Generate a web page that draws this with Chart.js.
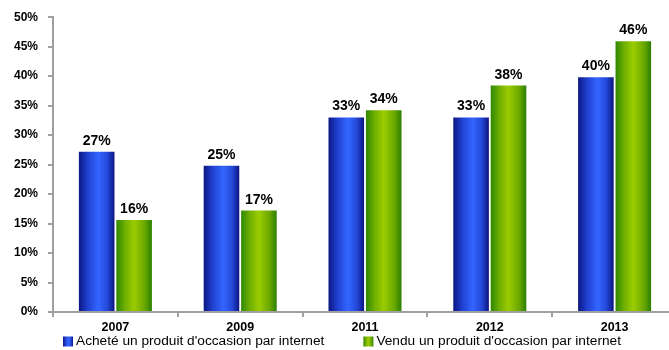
<!DOCTYPE html>
<html>
<head>
<meta charset="utf-8">
<script src="https://cdn.jsdelivr.net/npm/chart.js@4.4.0/dist/chart.umd.min.js"></script>
<style>
  body { margin: 0; background: #fff; overflow: hidden; }
  #wrap { width: 669px; height: 350px; overflow: hidden; }
</style>
</head>
<body>
<div id="wrap"><canvas id="chart" width="690" height="350"></canvas></div>
<script>
var years = ['2007', '2009', '2011', '2012', '2013'];
var achete = [27.2, 24.8, 33.0, 33.0, 39.8];
var vendu = [15.6, 17.2, 34.2, 38.4, 45.9];
var seriesNames = ["Acheté un produit d'occasion par internet", "Vendu un produit d'occasion par internet"];

var FONT = 'Liberation Sans, Arial, sans-serif';

// cylinder-like shading, left to right across a bar
var shades = [
  [[0, '#0c1682'], [0.25, '#2040d0'], [0.55, '#3366ff'], [0.8, '#2448d8'], [1, '#0b1480']],
  [[0, '#2e8800'], [0.25, '#70b000'], [0.5, '#9ccc00'], [0.8, '#6aa800'], [1, '#2a8000']]
];

function shade(ctx, i, x0, x1) {
  var g = ctx.createLinearGradient(x0, 0, x1, 0);
  shades[i].forEach(function(s) { g.addColorStop(s[0], s[1]); });
  return g;
}

var gradientBars = {
  id: 'gradientBars',
  beforeDatasetsDraw: function(chart) {
    chart.data.datasets.forEach(function(ds, i) {
      chart.getDatasetMeta(i).data.forEach(function(bar) {
        bar.options.backgroundColor = shade(chart.ctx, i, bar.x - bar.width / 2, bar.x + bar.width / 2);
      });
    });
  }
};

var valueLabels = {
  id: 'valueLabels',
  afterDatasetsDraw: function(chart) {
    var ctx = chart.ctx;
    ctx.save();
    ctx.font = 'bold 14px ' + FONT;
    ctx.fillStyle = '#000';
    ctx.textAlign = 'center';
    ctx.textBaseline = 'alphabetic';
    chart.data.datasets.forEach(function(ds, i) {
      chart.getDatasetMeta(i).data.forEach(function(bar, j) {
        ctx.fillText(Math.round(ds.data[j]) + '%', bar.x, bar.y - 7);
      });
    });
    ctx.restore();
  }
};

var bottomLegend = {
  id: 'bottomLegend',
  afterDraw: function(chart) {
    var ctx = chart.ctx;
    var x = 63, y = 341.5;
    ctx.save();
    ctx.font = '13.7px ' + FONT;
    ctx.textBaseline = 'middle';
    seriesNames.forEach(function(name, i) {
      ctx.fillStyle = shade(ctx, i, x, x + 10);
      ctx.fillRect(x, y - 5, 10, 10);
      ctx.fillStyle = '#000';
      ctx.fillText(name, x + 13, y);
      x += 13 + ctx.measureText(name).width + 39;
    });
    ctx.restore();
  }
};

var axisGrey = '#a0a0a0';

new Chart(document.getElementById('chart'), {
  type: 'bar',
  data: {
    labels: years,
    datasets: [
      { label: seriesNames[0], data: achete, backgroundColor: function() { return '#2b55ee'; } },
      { label: seriesNames[1], data: vendu, backgroundColor: function() { return '#8cc000'; } }
    ]
  },
  options: {
    responsive: false,
    animation: false,
    events: [],
    categoryPercentage: 0.6,
    barPercentage: 0.95,
    layout: { padding: { top: 17, right: 13, bottom: 16, left: 0 } },
    plugins: {
      legend: { display: false },
      tooltip: { enabled: false }
    },
    scales: {
      x: {
        ticks: { color: '#000', font: { family: FONT, size: 12.5, weight: 'bold' }, padding: 3 },
        grid: { drawOnChartArea: false, offset: true, tickLength: 5, color: axisGrey, lineWidth: 2 },
        border: { color: axisGrey, width: 2 },
        afterFit: function(s) { s.height = 22; }
      },
      y: {
        min: 0,
        max: 50,
        ticks: {
          stepSize: 5,
          color: '#000',
          font: { family: FONT, size: 12, weight: 'bold' },
          padding: 10,
          callback: function(v) { return v + '%'; }
        },
        grid: { drawOnChartArea: false, tickLength: 5, color: axisGrey, lineWidth: 2 },
        border: { color: axisGrey, width: 2 },
        afterFit: function(s) { s.width = 53; }
      }
    }
  },
  plugins: [gradientBars, valueLabels, bottomLegend]
});
</script>
</body>
</html>
